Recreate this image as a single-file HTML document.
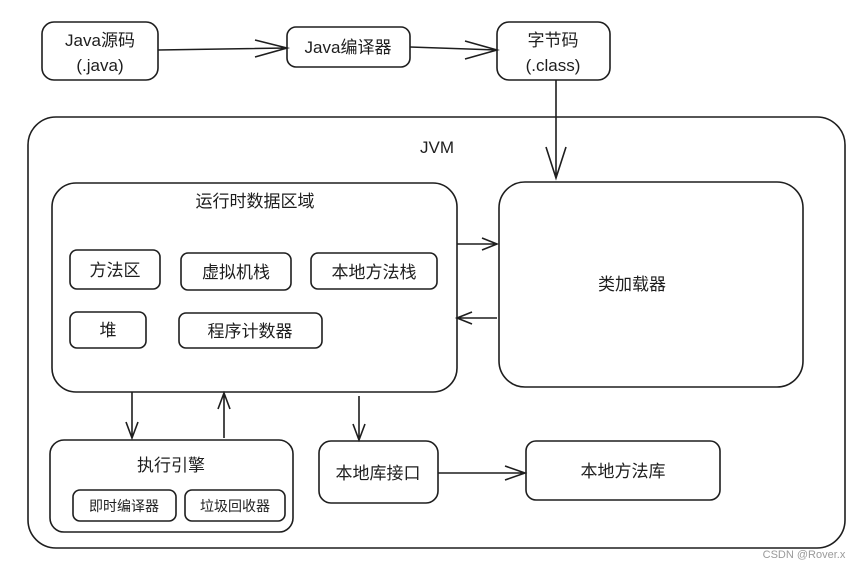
<!DOCTYPE html>
<html><head><meta charset="utf-8"><style>
html,body{margin:0;padding:0;background:#fff;}
svg text{font-family:"Liberation Sans","Noto Sans CJK SC",sans-serif;fill:#1e1e1e;}
</style></head><body>
<svg width="865" height="568" viewBox="0 0 865 568" xmlns="http://www.w3.org/2000/svg">
<g fill="none" stroke="#1e1e1e" stroke-width="1.6">
<rect x="42" y="22" width="116" height="58" rx="12"/>
<rect x="287" y="27" width="123" height="40" rx="9"/>
<rect x="497" y="22" width="113" height="58" rx="12"/>
<rect x="28" y="117" width="817" height="431" rx="28"/>
<rect x="52" y="183" width="405" height="209" rx="24"/>
<rect x="70" y="250" width="90" height="39" rx="7"/>
<rect x="181" y="253" width="110" height="37" rx="7"/>
<rect x="311" y="253" width="126" height="36" rx="7"/>
<rect x="70" y="312" width="76" height="36" rx="7"/>
<rect x="179" y="313" width="143" height="35" rx="7"/>
<rect x="499" y="182" width="304" height="205" rx="26"/>
<rect x="50" y="440" width="243" height="92" rx="14"/>
<rect x="73" y="490" width="103" height="31" rx="7"/>
<rect x="185" y="490" width="100" height="31" rx="7"/>
<rect x="319" y="441" width="119" height="62" rx="12"/>
<rect x="526" y="441" width="194" height="59" rx="10"/>
<path d="M158 50 L287 48 M255 40 L287 48 L255 57"/>
<path d="M410 47 L497 50 M465 41 L497 50 L465 59"/>
<path d="M556 80 L556 178 M546 147 L556 178 L566 147"/>
<path d="M457 244 L497 244 M482 238 L497 244 L482 250"/>
<path d="M497 318 L457 318 M472 312 L457 318 L472 324"/>
<path d="M132 392 L132 438 M126 422 L132 438 L138 422"/>
<path d="M224 438 L224 393 M218 409 L224 393 L230 409"/>
<path d="M359 396 L359 440 M353 424 L359 440 L365 424"/>
<path d="M438 473 L525 473 M505 466 L525 473 L505 480"/>
</g>
<g font-size="17" text-anchor="middle">
<text x="100" y="46">Java源码</text>
<text x="100" y="71">(.java)</text>
<text x="348" y="53">Java编译器</text>
<text x="553" y="46">字节码</text>
<text x="553" y="71">(.class)</text>
<text x="437" y="153">JVM</text>
<text x="255" y="207">运行时数据区域</text>
<text x="115" y="276">方法区</text>
<text x="236" y="278">虚拟机栈</text>
<text x="374" y="278">本地方法栈</text>
<text x="108" y="336">堆</text>
<text x="250" y="337">程序计数器</text>
<text x="632" y="290">类加载器</text>
<text x="171" y="471">执行引擎</text>
<text x="378" y="479">本地库接口</text>
<text x="623" y="477">本地方法库</text>
</g>
<g font-size="14" text-anchor="middle">
<text x="124" y="511">即时编译器</text>
<text x="235" y="511">垃圾回收器</text>
</g>
<text x="804" y="558" font-size="11" text-anchor="middle" style="fill:#9a9a9a">CSDN @Rover.x</text>
</svg>
</body></html>
